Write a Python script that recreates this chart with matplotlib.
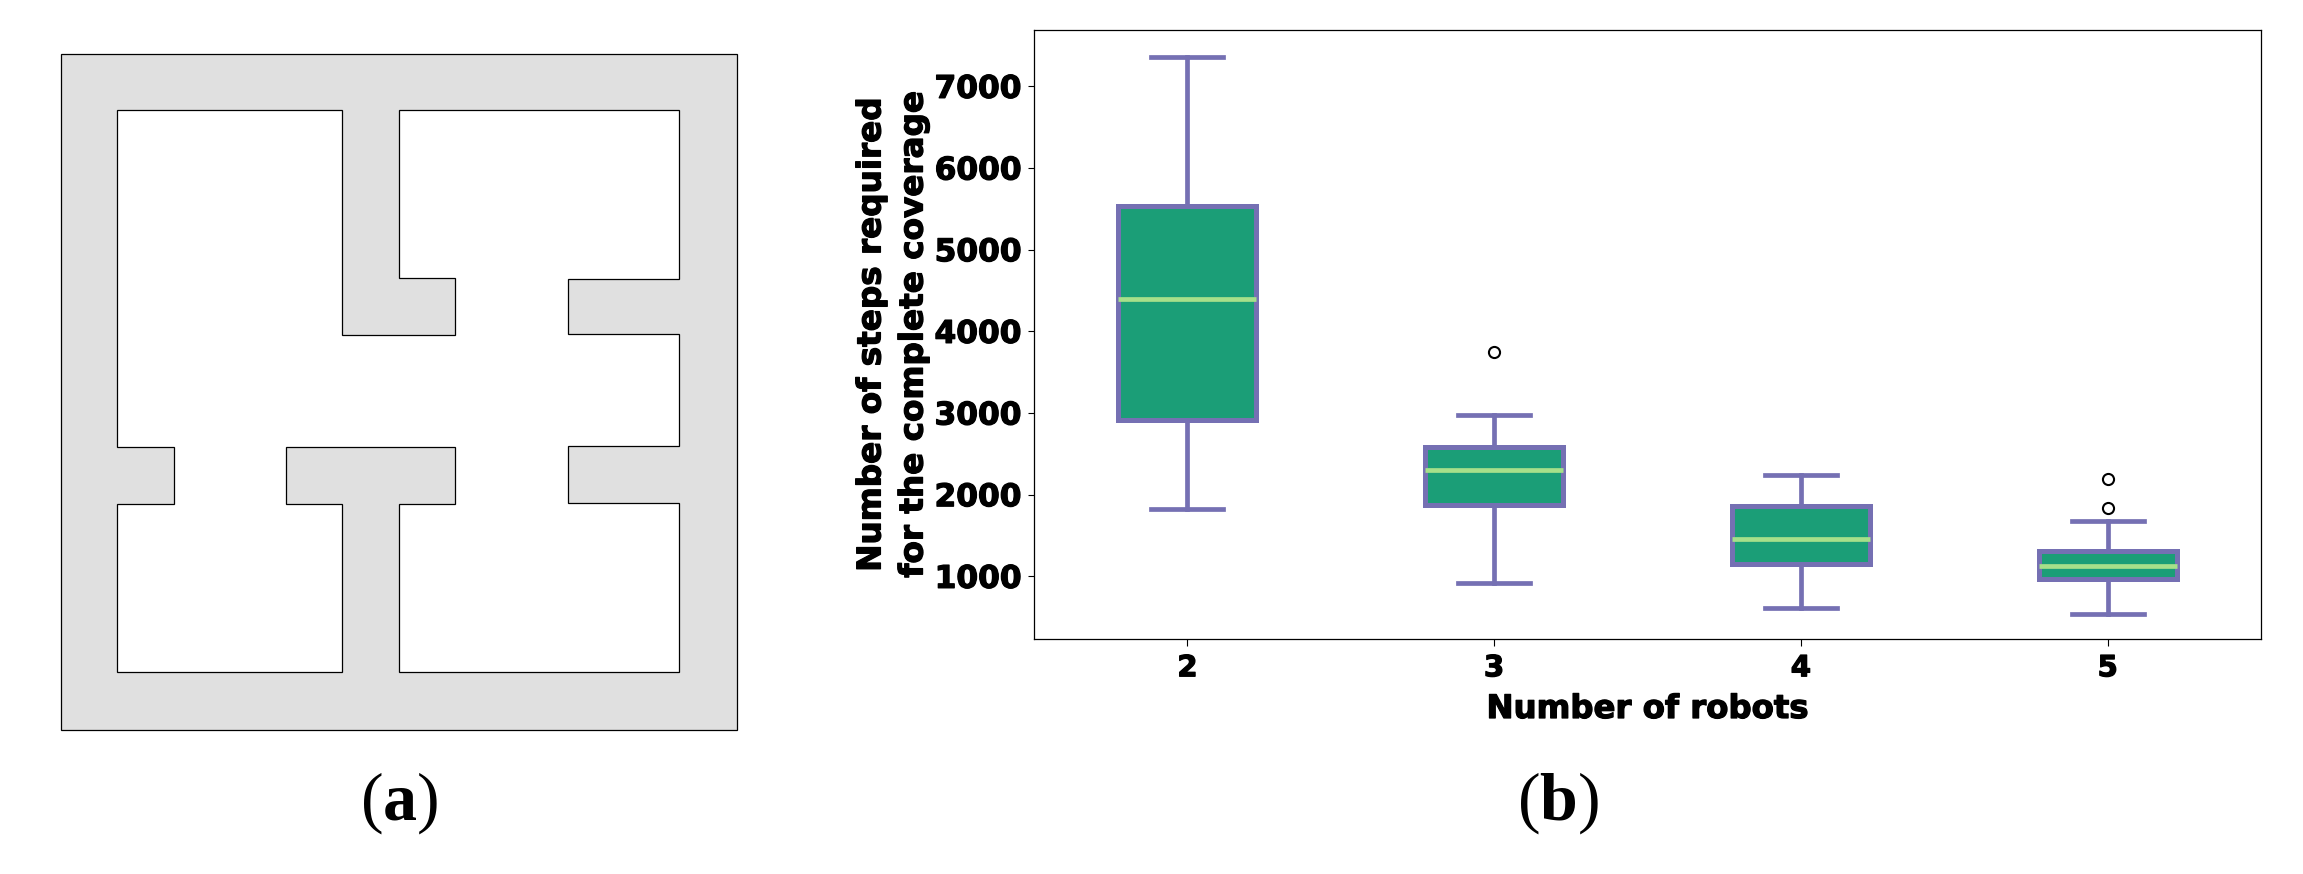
import matplotlib
matplotlib.use("Agg")
import matplotlib.pyplot as plt
import matplotlib.patheffects as pe
from matplotlib.patches import Polygon, Rectangle

W, H = 2303, 874

# --- Panel (a): floor plan on a 12 x 12 grid
floor_x = [1, 5, 5, 7, 7, 6, 6, 10.98, 10.98, 9, 9, 10.98, 10.98, 9, 9, 10.98, 10.98, 6.01, 6.01, 7, 7, 4, 4, 5, 5, 1, 1, 2.02, 2.02, 1]
floor_y = [1, 1, 4.99, 4.99, 3.98, 3.98, 1, 1, 4, 4, 4.97, 4.97, 6.97, 6.97, 7.97, 7.97, 10.97, 10.97, 7.99, 7.99, 6.98, 6.98, 7.99, 7.99, 10.97, 10.97, 7.99, 7.99, 6.98, 6.98]

# --- Panel (b): box plot
robots = ["2", "3", "4", "5"]
whisker_low = [1820, 918, 616, 535]
q1 = [2918, 1874, 1155, 966]
median = [4392, 2297, 1460, 1123]
q3 = [5539, 2590, 1859, 1307]
whisker_high = [7355, 2973, 2240, 1679]
outliers = [[], [3751], [], [1837, 2191]]
y_ticks = [1000, 2000, 3000, 4000, 5000, 6000, 7000]

plt.rcParams["mathtext.fontset"] = "custom"
plt.rcParams["mathtext.rm"] = "Liberation Serif"
plt.rcParams["mathtext.bf"] = "Liberation Serif:bold"

PURPLE = "#7570b3"
GREEN = "#1b9e77"
MEDIAN = "#a6e08a"
GREY = "#e0e0e0"
HEAVY = [pe.withStroke(linewidth=0.9, foreground="black")]


def axes_box(l, t, r, b):
    return [l / W, 1 - b / H, (r - l) / W, (b - t) / H]


fig = plt.figure(figsize=(W / 100, H / 100), dpi=100, facecolor="white")

# Panel (a)
ax_a = fig.add_axes(axes_box(60.5, 53.5, 737, 730))
ax_a.set_xlim(0, 12)
ax_a.set_ylim(12, 0)
ax_a.axis("off")
ax_a.add_patch(Rectangle((0, 0), 12, 12, facecolor=GREY, edgecolor="black", linewidth=0.9, clip_on=False))
ax_a.add_patch(Polygon(list(zip(floor_x, floor_y)), closed=True, facecolor="white", edgecolor="black", linewidth=0.9))

# Panel (b)
ax_b = fig.add_axes(axes_box(1034, 30, 2261, 639))
stats = [
    dict(label=lab, whislo=wl, q1=a, med=m, q3=b, whishi=wh, fliers=f)
    for lab, wl, a, m, b, wh, f in zip(robots, whisker_low, q1, median, q3, whisker_high, outliers)
]
ax_b.bxp(
    stats,
    positions=range(len(robots)),
    widths=0.45,
    capwidths=0.235,
    patch_artist=True,
    boxprops=dict(facecolor=GREEN, edgecolor=PURPLE, linewidth=3.6),
    whiskerprops=dict(color=PURPLE, linewidth=3.4),
    capprops=dict(color=PURPLE, linewidth=3.4),
    medianprops=dict(color=MEDIAN, linewidth=3.4, solid_capstyle="butt"),
    flierprops=dict(marker="o", markerfacecolor="white", markeredgecolor="black", markersize=8, markeredgewidth=1.5),
)
ax_b.set_xlim(-0.5, 3.5)
ax_b.set_ylim(233, 7690)
ax_b.set_yticks(y_ticks)
ax_b.set_xticks(range(len(robots)))
ax_b.set_xticklabels(robots)
ax_b.tick_params(axis="x", length=5, width=0.8, pad=6, labelsize=21)
ax_b.tick_params(axis="y", length=4.5, width=0.8, pad=4.5, labelsize=22.5)
for lab in ax_b.get_xticklabels() + ax_b.get_yticklabels():
    lab.set_fontfamily("DejaVu Sans")
    lab.set_fontweight("bold")
    lab.set_path_effects(HEAVY)
for sp in ax_b.spines.values():
    sp.set_linewidth(0.9)
    sp.set_color("black")

ax_b.set_xlabel("Number of robots", fontfamily="DejaVu Sans", fontweight="bold", fontsize=23.3, va="center", path_effects=HEAVY)
ax_b.xaxis.set_label_coords(0.5, (639 - 709.5) / (639 - 30))
ax_b.set_ylabel(
    "Number of steps required\nfor the complete coverage",
    fontfamily="DejaVu Sans",
    fontweight="bold",
    fontsize=23.5,
    va="center",
    ha="center",
    linespacing=1.35,
    path_effects=HEAVY,
)
ax_b.yaxis.set_label_coords((892 - 1034) / (2261 - 1034), 0.5)

fig.text(399 / W, 1 - 803 / H, r"($\mathbf{a}$)", fontsize=49, ha="center", va="center", family="Liberation Serif")
fig.text(1558 / W, 1 - 803 / H, r"($\mathbf{b}$)", fontsize=49, ha="center", va="center", family="Liberation Serif")

fig.savefig("out.png", dpi=100, facecolor="white")
